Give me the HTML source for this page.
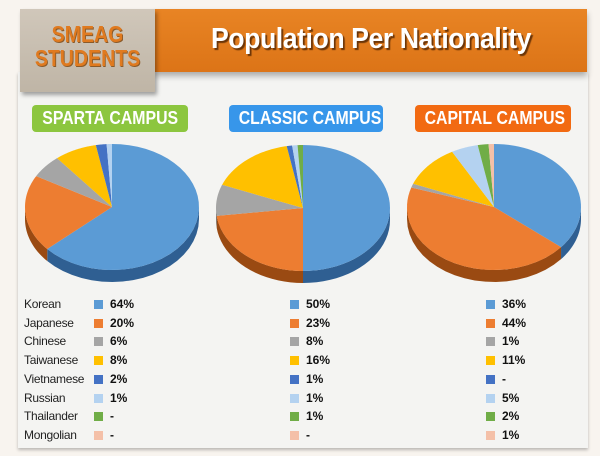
<!DOCTYPE html>
<html><head><meta charset="utf-8"><style>
*{margin:0;padding:0;box-sizing:border-box}
body{width:600px;height:456px;background:#f8f4ef;position:relative;overflow:hidden;font-family:"Liberation Sans",Arial,sans-serif}
#panel{position:absolute;left:18px;top:72px;width:570px;height:376px;background:#f4f4f2;box-shadow:0 2px 3px rgba(0,0,0,.25)}
#band{position:absolute;left:155px;top:9px;width:432px;height:63px;background:linear-gradient(#e88424,#dc7417);box-shadow:0 4px 6px rgba(0,0,0,.3)}
#title{position:absolute;left:155px;top:9px;width:432px;height:63px;line-height:60px;text-align:center;color:#fff;font-weight:bold;font-size:29px;letter-spacing:-0.5px;text-shadow:2px 2px 1px #6b3508;transform:scaleX(0.92);white-space:nowrap}
#gray{position:absolute;left:20px;top:9px;width:135px;height:83px;background:linear-gradient(#d0c7ba,#bfb5a6);box-shadow:2px 3px 4px rgba(0,0,0,.35)}
#smeag{position:absolute;left:20px;top:22px;width:135px;text-align:center;color:#e07a1f;font-weight:bold;font-size:23px;line-height:24px;text-shadow:1px 1px 0 #8a5a2a;transform:scaleX(0.85)}
.badge{position:absolute;top:105px;height:27px;border-radius:4px;color:#fff;font-weight:bold;font-size:18px;line-height:27px;text-align:center;white-space:nowrap;overflow:hidden}
.badge span{display:inline-block;transform:scaleX(0.88);white-space:nowrap}
.row{position:absolute;font-size:12px;color:#222;letter-spacing:-0.3px}
.sq{position:absolute;width:9px;height:9px}
.pc{position:absolute;font-size:12px;font-weight:bold;color:#111}
svg{position:absolute;left:0;top:0}
</style></head><body>
<div id="panel"></div>
<div id="band"></div>
<div id="title">Population Per Nationality</div>
<div id="gray"></div>
<div id="smeag">SMEAG<br>STUDENTS</div>
<div class="badge" style="left:32px;width:156px;background:#8cc63f"><span>SPARTA&nbsp;CAMPUS</span></div>
<div class="badge" style="left:229px;width:154px;background:#3796ea"><span>CLASSIC&nbsp;CAMPUS</span></div>
<div class="badge" style="left:415px;width:156px;background:#f26a12"><span>CAPITAL&nbsp;CAMPUS</span></div>
<svg id="s" width="600" height="456"></svg>
<div id="leg"></div>
<script>
var cols=["#5b9bd5","#ed7d31","#a5a5a5","#ffc000","#4472c4","#b4d2f0","#70ad47","#f4c0a8"];
var dark=["#2f5f92","#9a4a12","#6a6a6a","#a87e00","#2a4a85","#7a9ac0","#457a2a","#b08070"];
var names=["Korean","Japanese","Chinese","Taiwanese","Vietnamese","Russian","Thailander","Mongolian"];
var data=[[64,20,6,8,2,1,0,0],[50,23,8,16,1,1,1,0],[36,44,1,11,0,5,2,1]];
var pies=[[112,207],[303,208],[494,207]];
var rx=87,ry=63,d=12,s="";
function P(cx,cy,t,o){return (cx+rx*Math.sin(t)).toFixed(2)+","+(cy-ry*Math.cos(t)+o).toFixed(2);}
data.forEach(function(v,k){
 var cx=pies[k][0],cy=pies[k][1],tot=0,a=0,segs=[];
 v.forEach(function(x){tot+=x});
 v.forEach(function(x,i){if(!x)return;var b=a+x/tot*2*Math.PI;segs.push([a,b,i]);a=b;});
 segs.forEach(function(g){var a0=Math.max(g[0],Math.PI/2),a1=Math.min(g[1],1.5*Math.PI);if(a1<=a0)return;
  var p="M"+P(cx,cy,a0,0),n=20,j;
  for(j=1;j<=n;j++)p+=" L"+P(cx,cy,a0+(a1-a0)*j/n,0);
  for(j=n;j>=0;j--)p+=" L"+P(cx,cy,a0+(a1-a0)*j/n,d);
  s+='<path d="'+p+'Z" fill="'+dark[g[2]]+'"/>';});
 segs.forEach(function(g){var p="M"+cx+","+cy+" L"+P(cx,cy,g[0],0),n=40,j;
  for(j=1;j<=n;j++)p+=" L"+P(cx,cy,g[0]+(g[1]-g[0])*j/n,0);
  s+='<path d="'+p+'Z" fill="'+cols[g[2]]+'"/>';});
});
document.getElementById("s").innerHTML=s;
var h="",xs=[94,290,486];
names.forEach(function(n,i){var y=297+i*18.7;
 h+='<div class="row" style="left:24px;top:'+y+'px">'+n+'</div>';
 for(var k=0;k<3;k++){var v=data[k][i];
  h+='<div class="sq" style="left:'+xs[k]+'px;top:'+(y+3)+'px;background:'+cols[i]+'"></div>';
  h+='<div class="pc" style="left:'+(xs[k]+16)+'px;top:'+y+'px">'+(v?v+'%':'-')+'</div>';}
});
document.getElementById("leg").innerHTML=h;
</script>
</body></html>
